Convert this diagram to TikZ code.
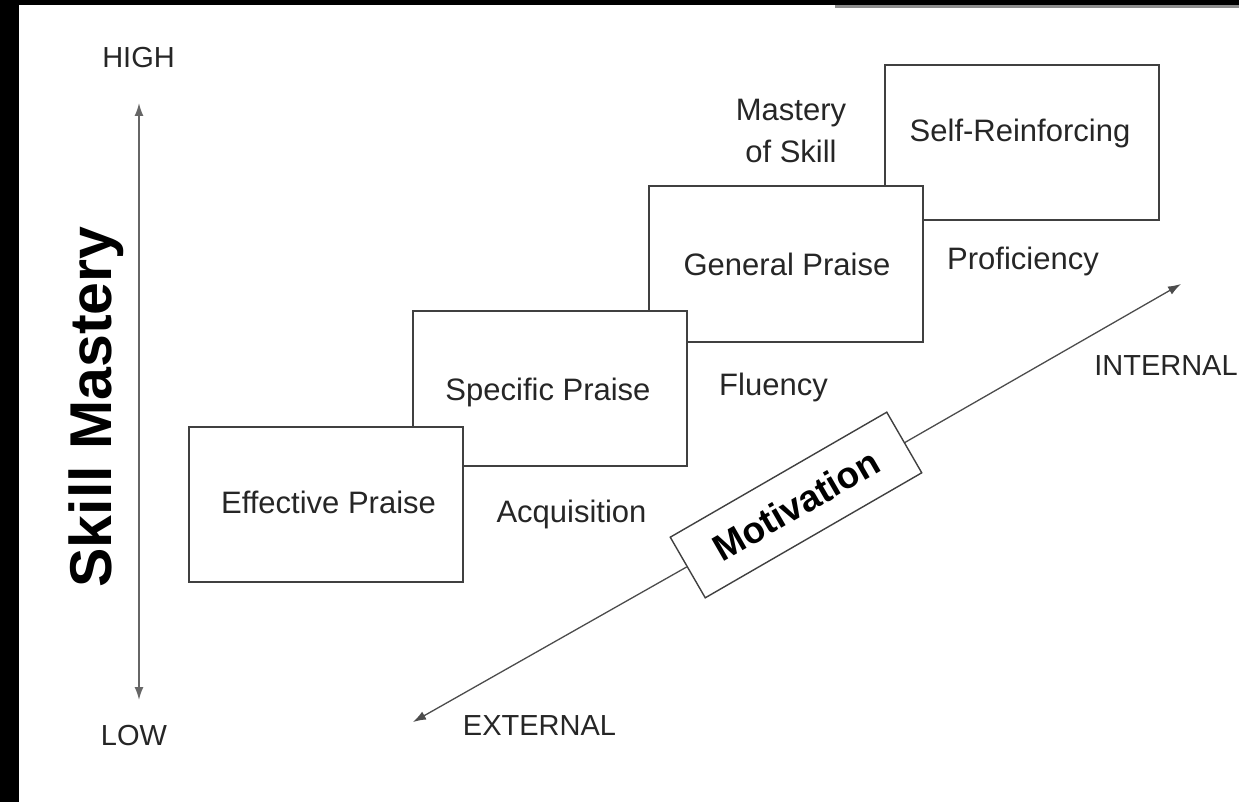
\documentclass[tikz,border=0pt]{standalone}
\usepackage{fontspec}
\setmainfont{Liberation Sans}
\usetikzlibrary{arrows.meta}

\begin{document}
\begin{tikzpicture}[
    x=1pt, y=-1pt,
    >={Latex[length=13pt,width=9pt]},
    praise/.style ={
        rectangle,
        minimum width=274pt,
        minimum height=155pt,
        draw=black!75,
        line width=2pt,
        fill=white
    },
    txt/.style ={
        text=black!85,
        font=\fontsize{31}{37}\selectfont,
        inner sep=0pt,
        anchor=base
    },
    axislbl/.style ={
        txt,
        font=\fontsize{29}{35}\selectfont
    },
    motivbox/.style ={
        rectangle,
        rotate=30,
        minimum width=250pt,
        minimum height=70pt,
        inner sep=0pt,
        draw=black!75,
        line width=1.4pt,
        fill=white,
        font=\fontsize{37}{43}\selectfont\bfseries
    },
    axisline/.style ={
        draw=black!60,
        line width=1.6pt
    },
    motivline/.style ={
        draw=black!70,
        line width=1.3pt
    }
    ]

    \useasboundingbox (0,0) rectangle (1239,802);
    % scan edges
    \fill[black] (0,0) rectangle (19,802);
    \fill[black] (0,0) rectangle (1239,5);
    \fill[black!45] (835,5) rectangle (1239,8);

    % vertical axis
    \node[txt, font=\fontsize{59}{65}\selectfont\bfseries, text=black, rotate=90] (skill) at (111,407) {Skill Mastery};
    \node[axislbl] (high) at (138.5,68) {HIGH};
    \node[axislbl] (low) at (134,745) {LOW};
    \coordinate (high-tip) at (139,103);
    \coordinate (low-tip) at (139,700);
    \draw[axisline,<->] (high-tip) -- (low-tip);

    % praise steps, back to front
    \foreach \name/\bx/\by/\tx/\ty/\label in {
        self/1022/143/1020/142/Self-Reinforcing,
        general/785.5/264/787/276/General Praise,
        specific/549.5/388.5/548/400/Specific Praise,
        effective/326/504.5/328.5/513/Effective Praise}
    {
        \node[praise] (\name) at (\bx,\by) {};
        \node[txt] (\name-txt) at (\tx,\ty) {\label};
    }

    \node[txt] (acquisition) at (571.5,522) {Acquisition};
    \node[txt] (fluency) at (773.5,395) {Fluency};
    \node[txt] (proficiency) at (1023,270) {Proficiency};
    \node[txt, anchor=center, align=center, font=\fontsize{31}{42}\selectfont] (mastery) at (791,130.7) {Mastery\\of Skill};

    % motivation axis
    \node[motivbox] (motiv) at (796,505) {Motivation};
    \coordinate (int-tip) at (1181,284);
    \coordinate (ext-tip) at (413,722);
    \node[axislbl] (internal) at (1166,375) {INTERNAL};
    \node[axislbl] (external) at (539.5,735) {EXTERNAL};

    \foreach \dst in {int-tip, ext-tip}
        \draw[motivline,->] (motiv) -- (\dst);
\end{tikzpicture}
\end{document}
